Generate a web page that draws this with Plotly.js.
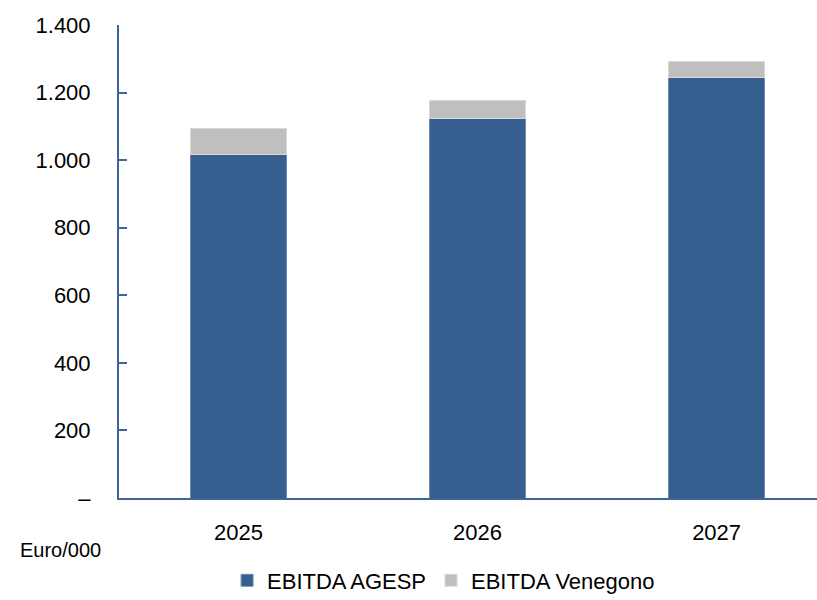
<!DOCTYPE html>
<html><head><meta charset="utf-8">
<script src="https://cdn.plot.ly/plotly-3.0.1.min.js"></script>
<style>body{margin:0;background:#fff}</style>
</head><body>
<div id="chart" style="width:817px;height:600px"></div>
<script>
const years = ["2025", "2026", "2027"];
const agesp = [1018, 1124, 1246];
const venegono = [77, 54, 47];
const yTickVals = [0, 200, 400, 600, 800, 1000, 1200, 1400];
const yTickText = ["–", "200", "400", "600", "800", "1.000", "1.200", "1.400"];

const FONT = "Liberation Sans Narrow, Arial Narrow, Liberation Sans, Arial, sans-serif";
const AX = "#3E6499";

const traces = [
  {type: "bar", name: "EBITDA AGESP", x: years, y: agesp,
   marker: {color: "#365F8F", line: {color: "#6F8DB3", width: 1}}},
  {type: "bar", name: "EBITDA Venegono", x: years, y: venegono,
   marker: {color: "#BFBFBF", line: {color: "#D9D9D9", width: 1}}}
];

const layout = {
  width: 817, height: 600,
  margin: {l: 119, r: 0, t: 25, b: 102, autoexpand: false},
  barmode: "stack",
  bargap: 0.6,
  paper_bgcolor: "#fff", plot_bgcolor: "#fff",
  font: {family: FONT, size: 22, color: "#000"},
  showlegend: true,
  legend: {orientation: "h", x: 0.465, xanchor: "center", y: -0.13, yanchor: "top",
           font: {family: FONT, size: 22, color: "#000"}, itemwidth: 30, traceorder: "normal"},
  xaxis: {type: "category", range: [-0.5, 2.42], showline: true, linecolor: AX, linewidth: 2,
          ticks: "", showgrid: false, zeroline: false, ticklabelstandoff: 14,
          tickfont: {family: FONT, size: 22, color: "#000"}},
  yaxis: {range: [0, 1400], tickvals: yTickVals, ticktext: yTickText, showline: true,
          linecolor: AX, linewidth: 2, ticks: "inside", ticklen: 8, tickwidth: 2, tickcolor: AX,
          showgrid: false, zeroline: false, ticklabelstandoff: 22,
          tickfont: {family: FONT, size: 22, color: "#000"}},
  annotations: [{text: "Euro/000", xref: "paper", yref: "paper", x: -0.145, y: -0.11,
                 xanchor: "left", yanchor: "middle", showarrow: false,
                 font: {family: FONT, size: 20, color: "#000"}}]
};

Plotly.newPlot("chart", traces, layout, {displayModeBar: false});
</script>
</body></html>
